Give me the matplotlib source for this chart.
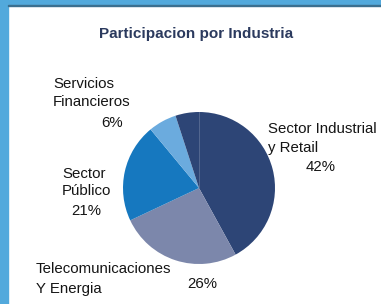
import matplotlib
matplotlib.use("Agg")
import matplotlib.pyplot as plt
from matplotlib.patches import Rectangle

W, H = 381, 304  # px

# data
sectors = ["Sector Industrial\ny Retail", "Telecomunicaciones\nY Energia",
           "Sector\nPúblico", "Servicios\nFinancieros", "Otros"]
shares = [42, 26, 21, 6, 5]
share_labels = ["42%", "26%", "21%", "6%", ""]
colors = ["#2d4576", "#7c87ab", "#1678bf", "#6babde", "#2d4576"]

plt.rcParams["font.family"] = ["Liberation Sans", "DejaVu Sans"]

fig = plt.figure(figsize=(W / 100, H / 100), dpi=100)
fig.patch.set_facecolor("white")

# blue frame on left and top
fig.patches.append(Rectangle((0, 0), 8 / W, 1, transform=fig.transFigure,
                             color="#52a9dc", zorder=0))
fig.patches.append(Rectangle((0, 1 - 5 / H), 1, 5 / H, transform=fig.transFigure,
                             color="#52a9dc", zorder=0))
fig.patches.append(Rectangle((8 / W, 1 - 6 / H), 1, 1.2 / H, transform=fig.transFigure,
                             color="#3b6f8f", zorder=0))

ax = fig.add_axes([0, 0, 1, 1])

cx, cy, r = 199, H - 188, 76
wedges, _ = ax.pie(shares, colors=colors, startangle=90, counterclock=False,
                   center=(cx, cy), radius=r, frame=True,
                   wedgeprops=dict(linewidth=0))
ax.set_xlim(0, W)
ax.set_ylim(0, H)
ax.set_aspect("equal")
ax.axis("off")
# faint seam between the two dark slices
ax.plot([cx, cx], [cy, cy + r], color="#5a6d95", linewidth=0.6)

def px(x, y):
    return x, H - y

fs = 10.8
tc = "#151515"
ax.text(*px(196, 38), "Participacion por Industria", ha="center", va="baseline",
        fontsize=11, fontweight="bold", color="#2b3a5e")

# Sector Industrial
ax.text(*px(268, 133), "Sector Industrial", ha="left", va="baseline", fontsize=fs, color=tc)
ax.text(*px(268, 152), "y Retail", ha="left", va="baseline", fontsize=fs, color=tc)
ax.text(*px(321, 171), share_labels[0], ha="center", va="baseline", fontsize=fs, color=tc)
# Telecom
ax.text(*px(36, 273), "Telecomunicaciones", ha="left", va="baseline", fontsize=fs, color=tc)
ax.text(*px(36, 293), "Y Energia", ha="left", va="baseline", fontsize=fs, color=tc)
ax.text(*px(202, 288), share_labels[1], ha="center", va="baseline", fontsize=fs, color=tc)
# Sector Publico
ax.text(*px(62, 178), "Sector", ha="left", va="baseline", fontsize=fs, color=tc)
ax.text(*px(62, 195), "Público", ha="left", va="baseline", fontsize=fs, color=tc)
ax.text(*px(86, 215), share_labels[2], ha="center", va="baseline", fontsize=fs, color=tc)
# Servicios Financieros
ax.text(*px(53, 88), "Servicios", ha="left", va="baseline", fontsize=fs, color=tc)
ax.text(*px(53, 106), "Financieros", ha="left", va="baseline", fontsize=fs, color=tc)
ax.text(*px(112, 127), share_labels[3], ha="center", va="baseline", fontsize=fs, color=tc)

fig.savefig("out.png", dpi=100)
